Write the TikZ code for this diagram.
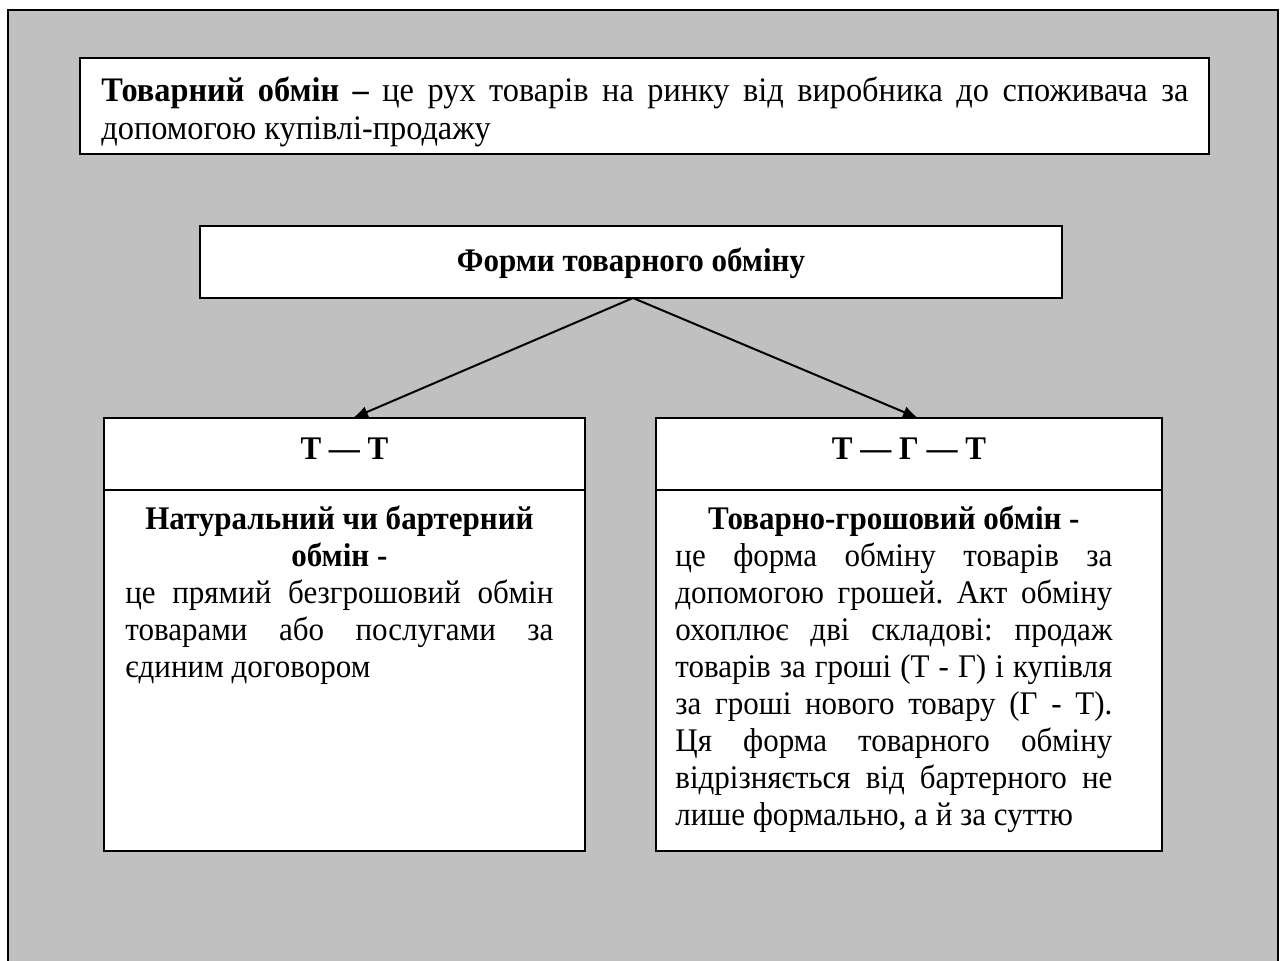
\documentclass[tikz,border=0pt]{standalone}
\usepackage{fontspec}
\setmainfont{Liberation Serif}[FakeStretch=0.94]
\usetikzlibrary{positioning,arrows.meta}
\hyphenpenalty=10000
\exhyphenpenalty=10000
\frenchspacing

\begin{document}
\begin{tikzpicture}[x=0.5pt,y=-0.5pt,
                every node/.style={font=\fontsize{16.5}{18.5}\selectfont},
                box/.style={rectangle,draw,fill=white,line width=1pt,inner sep=0pt,outer sep=0pt},
                head/.style={box,minimum height=36pt,text depth=5pt,font=\fontsize{16.5}{18.5}\selectfont\bfseries},
                txt/.style={inner sep=0pt,align=justify,anchor=base west},
                link/.style={line width=1pt,-{Latex[length=7.5pt,width=6pt]}}
            ]
                \useasboundingbox (0,0) rectangle (1280,961);
                % frame
                \fill[fill={rgb,255:red,192;green,192;blue,192}] (8,10) rectangle (1278,961);
                \draw[line width=1pt] (8,961) -- (8,10) -- (1278,10) -- (1278,961);

                \node[box,minimum width=564.5pt,minimum height=48pt] (defn) at (644.5,106) {};
                \node[txt,text width=543.5pt,font=\fontsize{17.2}{19}\selectfont] (defntext) at (101,102)
                    {\textbf{Товарний обмін –} це рух товарів на ринку від виробника до споживача за\linebreak
                     допомогою купівлі-продажу};

                \node[head,minimum width=431pt,text depth=2pt] (forms) at (631,262)
                    {Форми товарного обміну};

                % T-T
                \node[head,minimum width=240.5pt] (tt) at (344.5,454) {Т — Т};
                \node[box,minimum width=240.5pt,minimum height=180.5pt,below=0pt of tt] (ttbody) {};
                \node[txt,text width=214pt] (ttnote) at (125,530)
                    {{\centering\bfseries Натуральний чи бартерний\par обмін -\par}
                     це прямий безгрошовий обмін\linebreak
                     товарами або послугами за\linebreak
                     єдиним договором};

                % T-G-T
                \node[head,minimum width=253pt] (tgt) at (909,454) {Т — Г — Т};
                \node[box,minimum width=253pt,minimum height=180.5pt,below=0pt of tgt] (tgtbody) {};
                \node[txt,text width=218.5pt] (tgtnote) at (675,530)
                    {{\centering\bfseries Товарно-грошовий обмін -\par}
                     це форма обміну товарів за\linebreak
                     допомогою грошей. Акт обміну\linebreak
                     охоплює дві складові: продаж\linebreak
                     товарів за гроші (Т - Г) і купівля\linebreak
                     за гроші нового товару (Г - Т).\linebreak
                     Ця форма товарного обміну\linebreak
                     відрізняється від бартерного не\linebreak
                     лише формально, а й за суттю};

                \draw[link] ([xshift=1pt]forms.south) -- ([xshift=4.25pt]tt.north);
                \draw[link] ([xshift=1pt]forms.south) -- ([xshift=4.5pt]tgt.north);
\end{tikzpicture}
\end{document}
